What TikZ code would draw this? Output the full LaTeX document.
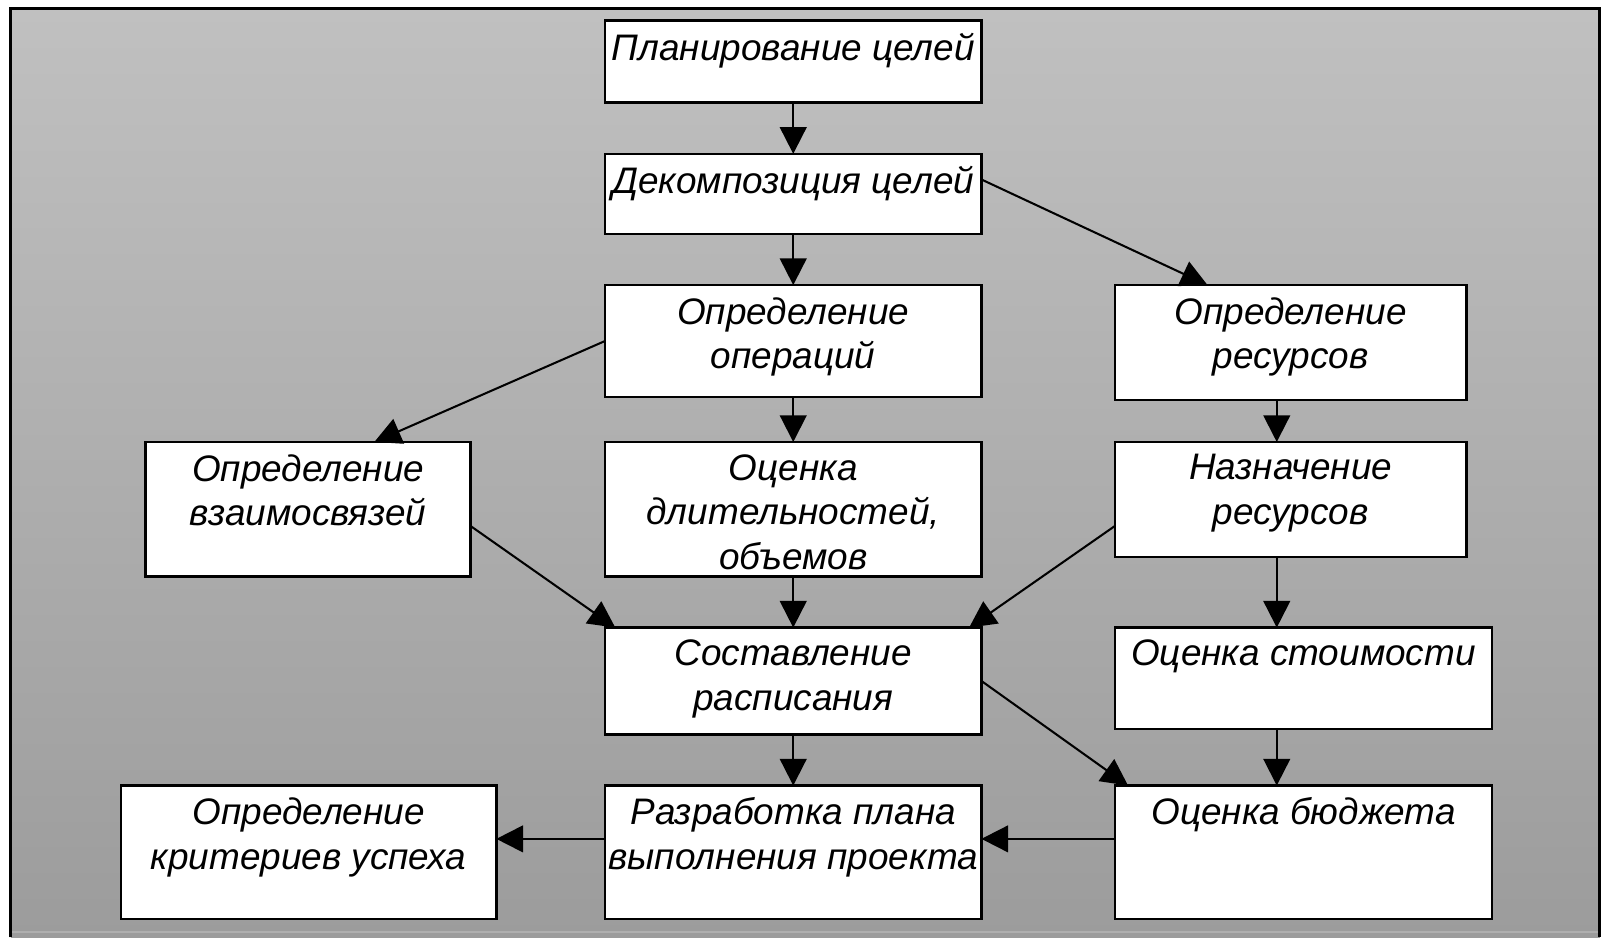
\documentclass[tikz,border=0pt]{standalone}
\usepackage{fontspec}
\setmainfont{Liberation Sans}
\usetikzlibrary{arrows.meta}
\definecolor{bgtop}{RGB}{192,192,192}
\definecolor{bgbot}{RGB}{156,156,156}
\definecolor{bgedge}{RGB}{175,175,175}
\tikzset{
  box/.style={draw=black, fill=white, line width=2.4pt, inner sep=0pt, outer sep=0pt},
  txt/.style={inner sep=0pt, outer sep=0pt, align=center, anchor=north,
    font=\fontsize{36}{43.5}\selectfont\itshape},
  conn/.style={draw=black, line width=2pt, -{Triangle[length=26pt,width=26pt]}},
  frameline/.style={draw=black, line width=3pt}
}
\begin{document}
\begin{tikzpicture}[x=1pt,y=-1pt]
\useasboundingbox (0,0) rectangle (1568,914);
\fill[white] (0,0) rectangle (1568,914);
\shade[top color=bgtop, bottom color=bgbot] (10.5,8.5) rectangle (1560,914);
\draw[bgedge, line width=1.5pt] (12,909) -- (1558,909);
\draw[frameline] (10.5,914) -- (10.5,8.5) -- (1560,8.5) -- (1560,914);

% boxes
\node[box, minimum width=367pt, minimum height=80pt]  (plan) at (773.5,60) {};
\node[box, minimum width=367pt, minimum height=78pt]  (dec)  at (773.5,189) {};
\node[box, minimum width=367pt, minimum height=109pt] (ops)  at (773.5,332.5) {};
\node[box, minimum width=343pt, minimum height=112pt] (res)  at (1258.5,334) {};
\node[box, minimum width=317pt, minimum height=131pt] (vz)   at (300.5,496.5) {};
\node[box, minimum width=367pt, minimum height=131pt] (dur)  at (773.5,496.5) {};
\node[box, minimum width=343pt, minimum height=112pt] (asg)  at (1258.5,487) {};
\node[box, minimum width=367pt, minimum height=104pt] (sch)  at (773.5,664) {};
\node[box, minimum width=368pt, minimum height=99pt]  (cost) at (1271,661.5) {};
\node[box, minimum width=366pt, minimum height=130pt] (crit) at (301,831) {};
\node[box, minimum width=367pt, minimum height=130pt] (pln)  at (773.5,831) {};
\node[box, minimum width=368pt, minimum height=130pt] (bud)  at (1271,831) {};

% texts
\node[txt] (plant) at ([yshift=-12pt]plan.north) {Планирование целей};
\node[txt] (dect)  at ([yshift=-12pt]dec.north)  {Декомпозиция целей};
\node[txt] (opst)  at ([yshift=-12pt]ops.north)  {Определение\\операций};
\node[txt] (rest)  at ([yshift=-12pt]res.north)  {Определение\\ресурсов};
\node[txt] (vzt)   at ([yshift=-12pt]vz.north)   {Определение\\взаимосвязей};
\node[txt] (durt)  at ([yshift=-12pt]dur.north)  {Оценка\\длительностей,\\объемов};
\node[txt] (asgt)  at ([yshift=-12pt]asg.north)  {Назначение\\ресурсов};
\node[txt] (scht)  at ([yshift=-12pt]sch.north)  {Составление\\расписания};
\node[txt] (costt) at ([yshift=-12pt]cost.north) {Оценка стоимости};
\node[txt] (critt) at ([yshift=-12pt]crit.north) {Определение\\критериев успеха};
\node[txt] (plnt)  at ([yshift=-12pt]pln.north)  {Разработка плана\\выполнения проекта};
\node[txt] (budt)  at ([yshift=-12pt]bud.north)  {Оценка бюджета};

% connectors
\draw[conn] (plan.south) -- (dec.north);
\draw[conn] (dec.south) -- (ops.north);
\draw[conn] ([yshift=14pt]dec.east) -- ([xshift=-81pt]res.north);
\draw[conn] (ops.west) -- ([xshift=64.5pt]vz.north);
\draw[conn] (ops.south) -- (dur.north);
\draw[conn] ([xshift=-13.5pt]res.south) -- ([xshift=-13.5pt]asg.north);
\draw[conn] ([yshift=-16.5pt]vz.east) -- ([xshift=10pt]sch.north west);
\draw[conn] (dur.south) -- (sch.north);
\draw[conn] ([yshift=-26pt]asg.west) -- ([xshift=-12pt]sch.north east);
\draw[conn] ([xshift=-13.5pt]asg.south) -- ([xshift=-26pt]cost.north);
\draw[conn] (sch.east) -- ([xshift=13pt]bud.north west);
\draw[conn] (sch.south) -- (pln.north);
\draw[conn] ([xshift=-26pt]cost.south) -- ([xshift=-26pt]bud.north);
\draw[conn] ([yshift=13pt]bud.west) -- ([yshift=13pt]pln.east);
\draw[conn] ([yshift=13pt]pln.west) -- ([yshift=13pt]crit.east);
\end{tikzpicture}
\end{document}
